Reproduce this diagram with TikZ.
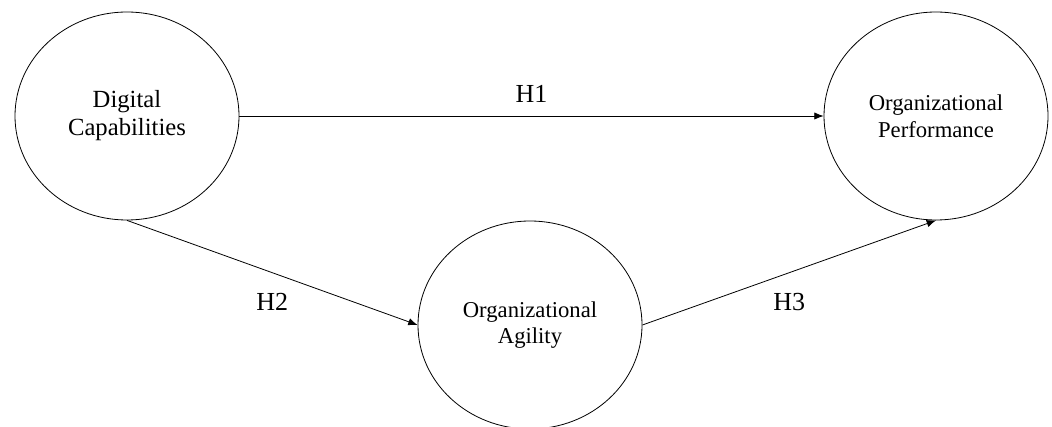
\documentclass[tikz,border=0pt]{standalone}
\usepackage{fontspec}
\setmainfont{Liberation Serif}
\usepackage{tikz}
\usetikzlibrary{arrows.meta,positioning,shapes.geometric}

\begin{document}
\begin{tikzpicture}[
  x=0.75pt,y=-0.75pt,
  construct/.style={draw,ellipse,line width=0.6pt,inner sep=0pt,minimum width=168pt,minimum height=156pt,align=center,font=\fontsize{18.5}{21}\selectfont},
  smalltext/.style={font=\fontsize{17}{20}\selectfont},
  hyp/.style={inner sep=0pt,font=\fontsize{19.5}{22}\selectfont},
  arr/.style={-{Latex[length=7pt,width=5.5pt]},line width=0.6pt}]
  \useasboundingbox (0,0) rectangle (1052,427);
  \node[construct] (digcap) at (127,116) {Digital\\Capabilities};
  \node[construct,smalltext] (orgperf) at (936,116) {Organizational\\Performance};
  \node[construct,smalltext] (orgagil) at (530,325) {Organizational\\Agility};
  \draw[arr] (digcap.east) -- node[hyp,above=10pt] {H1} (orgperf.west);
  \draw[arr] (digcap.south) -- node[hyp,below=15pt] {H2} (orgagil.west);
  \draw[arr] (orgagil.east) -- node[hyp,below=15pt] {H3} (orgperf.south);
\end{tikzpicture}
\end{document}
